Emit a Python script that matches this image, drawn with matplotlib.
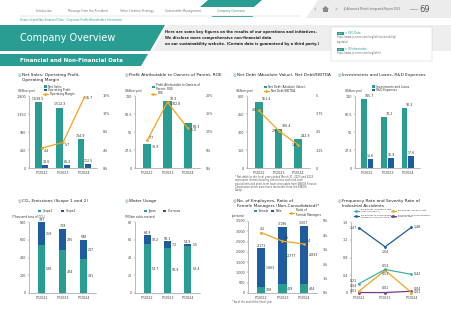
import matplotlib
matplotlib.use("Agg")
import matplotlib.pyplot as plt
from matplotlib.patches import Polygon, Rectangle

TEAL = '#2a9d92'
BLUE = '#1d5c9f'
ORANGE = '#f2a51e'
PURPLE = '#7a3b8c'
CYAN = '#3fb2a6'

years = ['FY2022', 'FY2023', 'FY2024']

# Net sales / operating profit / margin
net_sales = [1638.5, 1512.3, 714.9]
op_profit = [72.6, 86.2, 112.5]
op_margin = [4.4, 5.7, 15.7]

# Profit attributable / ROE
profit_parent = [36.9, 102.8, 68.3]
roe = [7.7, 18.3, 11.0]

# Net debt / EBITDA
net_debt = [551.4, 326.4, 242.9]
debt_ebitda = [4.0, 2.6, 1.6]

# Investments / R&D
investments = [105.7, 78.2, 92.3]
rnd = [13.6, 15.9, 17.6]

# CO2
scope1 = [538, 484, 381]
scope2 = [259, 235, 217]

# Water
water_japan = [54.7, 50.9, 53.4]
water_overseas = [10.2, 7.2, 1.5]

# Employees
female = [308, 419, 434]
male = [1863, 2777, 2833]
female_mgr = [4.2, 3.6, 3.4]

# Accidents
emp_freq = [0.21, 0.53, 0.42]
sub_freq = [1.47, 1.04, 1.48]
emp_sev = [0.04, 0.51, 0.01]
sub_sev = [0.01, 0.01, 0.04]

W, H = 452, 320
fig = plt.figure(figsize=(4.52, 3.2), dpi=100)
fig.patch.set_facecolor('white')

bg = fig.add_axes([0, 0, 1, 1])
bg.set_xlim(0, W)
bg.set_ylim(H, 0)
bg.axis('off')


def px_axes(x0, y0, x1, y1):
    return fig.add_axes([x0 / W, 1 - y1 / H, (x1 - x0) / W, (y1 - y0) / H])


def t(x, y, s, **kw):
    kw.setdefault('fontsize', 2.5)
    kw.setdefault('color', '#333333')
    kw.setdefault('va', 'center')
    bg.text(x, y, s, **kw)


# ---- header ----
bg.add_patch(Polygon([(318, 0), (452, 0), (452, 18), (306, 18)], color='#ececec', lw=0))
bg.add_patch(Polygon([(208, 0), (262, 0), (254, 7), (200, 7)], color=TEAL, lw=0))
bg.plot([20, 300], [16, 16], color='#cccccc', lw=0.3)
bg.plot([212, 252], [16, 16], color=TEAL, lw=0.6)
nav = [('Introduction', 36), ('Message From the President', 68), ('Value Creation Strategy', 120),
       ('Sustainable Management', 165), ('Company Overview', 217)]
for label, x in nav:
    t(x, 11, label, fontsize=2.1, color=TEAL if label == 'Company Overview' else '#777777')
t(314, 9, '‹', fontsize=5, color='#999999')
bg.add_patch(Polygon([(322, 9), (325.5, 6), (329, 9), (328, 9), (328, 12), (323, 12), (323, 9)], color='#888888', lw=0))
t(334, 9, '›', fontsize=5, color='#999999')
t(343, 9, 'JX Advanced Metals Integrated Report 2025', fontsize=1.9, color='#666666')
bg.plot([410, 417], [9, 9], color='#888888', lw=0.4)
t(419, 9, '69', fontsize=6, color='#555555')
t(20, 20, 'Financial and Non-Financial Data   Corporate Profile/Shareholder Information', fontsize=1.9, color=TEAL)

# title band
bg.add_patch(Polygon([(0, 25), (165, 25), (150, 51), (0, 51)], color=TEAL, lw=0))
bg.add_patch(Polygon([(168, 25), (452, 25), (452, 51), (153, 51)], color='#eeeeee', lw=0))
t(20, 38, 'Company Overview', fontsize=7, color='white')
for i, line in enumerate(['Here are some key figures on the results of our operations and initiatives.',
                          'We disclose more comprehensive non-financial data',
                          'on our sustainability website. (Certain data is guaranteed by a third party.)']):
    t(165, 31.5 + i * 6, line, fontsize=2.6, fontweight='bold', color='#222222')
bg.add_patch(Rectangle((331, 27), 101, 34, facecolor='white', edgecolor='#cccccc', lw=0.3))
links = [('ESG Data', 'https://www.jx-nmm.com/english/sustainability/\nesg-data/'),
         ('IR Information', 'https://www.jx-nmm.com/english/ir/')]
for i, (lab, url) in enumerate(links):
    y = 33 + i * 16
    bg.add_patch(Rectangle((337, y - 1.5), 7, 3, color=TEAL, lw=0))
    t(338, y, 'Web', fontsize=1.6, color='white')
    t(345, y, '> ' + lab, fontsize=1.9, color=TEAL)
    t(337, y + 2.2, url, fontsize=1.8, color='#666666', linespacing=1.3, va='top')

bg.add_patch(Polygon([(0, 54), (148, 54), (141, 66), (0, 66)], color=TEAL, lw=0))
t(20, 60, 'Financial and Non-Financial Data', fontsize=4, color='white', fontweight='bold')


def title(x, y, s):
    t(x, y, '◎', fontsize=3, color=TEAL)
    t(x + 4, y, s, fontsize=3.1, color='#222222')


title(18, 75, 'Net Sales, Operating Profit,')
t(22, 80, 'Operating Margin', fontsize=3.1, color='#222222')
title(125, 75, 'Profit Attributable to Owners of Parent, ROE')
title(233, 75, 'Net Debt (Absolute Value), Net Debt/EBITDA')
title(338, 75, 'Investments and Loans, R&D Expenses')
title(18, 201, 'CO\u2082 Emissions (Scope 1 and 2)')
title(125, 201, 'Water Usage')
title(233, 201, 'No. of Employees, Ratio of')
t(237, 206, 'Female Managers (Non-Consolidated)*', fontsize=3.1, color='#222222')
title(338, 201, 'Frequency Rate and Severity Rate of')
t(342, 206, 'Industrial Accidents', fontsize=3.1, color='#222222')


def leg_sq(x, y, c, s, fs=2.1):
    bg.add_patch(Rectangle((x, y - 1.4), 2.8, 2.8, color=c, lw=0))
    t(x + 4.5, y, s, fontsize=fs, color='#333333', linespacing=1.2)


def leg_ln(x, y, c, s, fs=2.1):
    bg.plot([x - 1, x + 4], [y, y], color=c, lw=0.8)
    bg.plot([x + 1.5], [y], marker='o', ms=1, color=c)
    t(x + 6, y, s, fontsize=fs, color='#333333', linespacing=1.1)


def style(ax, ymax, step, fmt='{:,.0f}'):
    ax.set_xlim(-0.6, 2.6)
    ax.set_ylim(0, ymax)
    ticks = [step * i for i in range(int(round(ymax / step)) + 1)]
    ax.set_yticks(ticks)
    ax.set_yticklabels([fmt.format(v) for v in ticks])
    ax.set_xticks(range(3))
    ax.set_xticklabels(years)
    ax.tick_params(labelsize=2.4, length=1, width=0.3, pad=1, colors='#444444')
    for s in ['top', 'right']:
        ax.spines[s].set_visible(False)
    for s in ['left', 'bottom']:
        ax.spines[s].set_linewidth(0.4)
        ax.spines[s].set_color('#888888')
    ax.patch.set_alpha(0)


def right_axis(ax, ymax, step, fmt):
    r = ax.twinx()
    r.set_ylim(0, ymax)
    ticks = [step * i for i in range(int(round(ymax / step)) + 1)]
    r.set_yticks(ticks)
    r.set_yticklabels([fmt.format(v) for v in ticks])
    r.tick_params(labelsize=2.4, length=0, pad=4, colors='#444444')
    for s in r.spines.values():
        s.set_visible(False)
    return r


lab = dict(fontsize=2.3, color='#333333')
x = [0, 1, 2]

# ---- chart 1 ----
ax = px_axes(29, 96, 97, 168)
ax.bar([i - 0.16 for i in x], net_sales, 0.3, color=TEAL)
ax.bar([i + 0.17 for i in x], op_profit, 0.28, color=BLUE)
style(ax, 1800, 450)
for i in x:
    ax.text(i - 0.16, net_sales[i] + 30, f'{net_sales[i]:,.1f}', ha='center', va='bottom', **lab)
    ax.text(i + 0.2, op_profit[i] + 25, f'{op_profit[i]:.1f}', ha='center', va='bottom', **lab)
r = right_axis(ax, 16, 4, '{:.0f}%')
r.plot(x, op_margin, color=ORANGE, lw=0.9, marker='o', ms=1)
for i in x:
    r.text(i + 0.08, op_margin[i] - 0.2, f'{op_margin[i]:.1f}', ha='left', va='top' if i < 2 else 'center', **lab)
t(18, 91, '(Billion yen)', fontsize=2.1)
leg_sq(44, 86.5, TEAL, 'Net Sales')
leg_sq(44, 90, BLUE, 'Operating Profit')
leg_ln(44, 93.5, ORANGE, 'Operating Margin')

# ---- chart 2 ----
ax = px_axes(135, 96, 200, 168)
ax.bar(x, profit_parent, 0.4, color=TEAL)
style(ax, 110, 27.5, fmt='{:g}')
for i in x:
    ax.text(i + 0.22, profit_parent[i] - 2, f'{profit_parent[i]:.1f}', ha='left', va='top', **lab)
r = right_axis(ax, 20, 5, '{:.0f}%')
r.plot(x, roe, color=ORANGE, lw=0.9, marker='o', ms=1)
for i in x:
    r.text(i + 0.1, roe[i] + 0.2, f'{roe[i]:.1f}', ha='left', va='bottom' if i < 2 else 'top', **lab)
t(125, 91, '(Billion yen)', fontsize=2.1)
leg_sq(152, 87, TEAL, 'Profit Attributable to Owners of\nParent, ROE')
leg_ln(152, 93.5, ORANGE, 'ROE')

# ---- chart 3 ----
ax = px_axes(247, 96, 310, 168)
ax.bar(x, net_debt, 0.4, color=TEAL)
style(ax, 600, 150)
for i in x:
    ax.text(i + 0.15, net_debt[i] + 8, f'{net_debt[i]:.1f}', ha='left', va='bottom', **lab)
r = right_axis(ax, 5, 1.25, '{:g}')
r.plot(x, debt_ebitda, color=ORANGE, lw=0.9, marker='o', ms=1)
for i in x:
    r.text(i - 0.08, debt_ebitda[i], f'{debt_ebitda[i]:.1f}', ha='right', va='center', **lab)
t(236, 91, '(Billion yen)', fontsize=2.1)
leg_sq(264, 87, TEAL, 'Net Debt (Absolute Value),')
leg_ln(265, 91, ORANGE, 'Net Debt/EBITDA')
for i, line in enumerate(['* Net debt for the fiscal years ended March 31, 2023 and 2024',
                          'represents interest-bearing debt minus cash and cash',
                          'equivalents and short-term loans receivable from ENEOS Finance',
                          'Corporation which were loans receivable from the ENEOS',
                          'Group.']):
    t(235, 177 + i * 3.3, line, fontsize=1.8, color='#555555')

# ---- chart 4 ----
ax = px_axes(355, 96, 420, 168)
ax.bar([i - 0.17 for i in x], investments, 0.28, color=TEAL)
ax.bar([i + 0.17 for i in x], rnd, 0.28, color=BLUE)
style(ax, 110, 27.5, fmt='{:g}')
for i in x:
    ax.text(i - 0.1, investments[i] + 1.5, f'{investments[i]:.1f}', ha='left', va='bottom', **lab)
    ax.text(i + 0.17, rnd[i] + 1.5, f'{rnd[i]:.1f}', ha='center', va='bottom', **lab)
t(345, 91, '(Billion yen)', fontsize=2.1)
leg_sq(372, 86.5, TEAL, 'Investments and Loans')
leg_sq(372, 90, BLUE, 'R&D Expenses')

# ---- chart 5 ----
ax = px_axes(29, 222, 96, 293)
ax.bar(x, scope1, 0.35, color=TEAL)
ax.bar(x, scope2, 0.35, bottom=scope1, color=BLUE)
style(ax, 800, 200)
for i in x:
    tot = scope1[i] + scope2[i]
    ax.text(i, tot + 8, f'{tot:,}', ha='center', va='bottom', **lab)
    ax.text(i + 0.22, scope1[i] / 2, f'{scope1[i]}', ha='left', va='center', **lab)
    ax.text(i + 0.22, scope1[i] + scope2[i] / 2, f'{scope2[i]}', ha='left', va='center', **lab)
t(12, 216.5, '(Thousand tons of CO\u2082)', fontsize=2.1)
leg_sq(38, 211, TEAL, 'Scope1')
leg_sq(61, 211, BLUE, 'Scope2')

# ---- chart 6 ----
ax = px_axes(135, 222, 200, 293)
ax.bar(x, water_japan, 0.35, color=TEAL)
ax.bar(x, water_overseas, 0.35, bottom=water_japan, color=BLUE)
style(ax, 80, 20)
for i in x:
    tot = water_japan[i] + water_overseas[i]
    ax.text(i, tot + 0.8, f'{tot:.1f}', ha='center', va='bottom', **lab)
    ax.text(i + 0.22, water_japan[i] / 2, f'{water_japan[i]:.1f}', ha='left', va='center', **lab)
    ax.text(i + 0.22, water_japan[i] + water_overseas[i] / 2, f'{water_overseas[i]:.1f}', ha='left', va='center', **lab)
t(125, 216.5, '(Million cubic meters)', fontsize=2.1)
leg_sq(144, 211, TEAL, 'Japan')
leg_sq(163, 211, BLUE, 'Overseas')

# ---- chart 7 ----
ax = px_axes(248, 221, 317, 293)
ax.bar(x, female, 0.38, color=TEAL)
ax.bar(x, male, 0.38, bottom=female, color=BLUE)
style(ax, 3500, 500)
for i in x:
    tot = female[i] + male[i]
    ax.text(i, tot + 40, f'{tot:,}', ha='center', va='bottom', **lab)
    ax.text(i + 0.22, female[i] / 2, f'{female[i]}', ha='left', va='center', **lab)
    ax.text(i + 0.22, female[i] + male[i] / 2, f'{male[i]:,}', ha='left', va='center', **lab)
r = right_axis(ax, 5, 1, '{:.0f}%')
r.plot(x, female_mgr, color=ORANGE, lw=0.9, marker='o', ms=1)
for i in x:
    r.text(i + 0.08, female_mgr[i] + 0.08, f'{female_mgr[i]:.1f}', ha='left' if i else 'center', va='bottom', **lab)
t(232, 216.5, '(persons)', fontsize=2.1)
leg_sq(254, 211, TEAL, 'Female')
leg_sq(271, 211, BLUE, 'Male')
leg_ln(290, 212.5, ORANGE, 'Ratio of\nFemale Managers')
t(232, 302, '* As of the end of the fiscal year', fontsize=1.8, color='#555555')

# ---- chart 8 ----
ax = px_axes(351, 222, 418, 293)
style(ax, 1.6, 0.4, fmt='{:g}')
ax.set_xlim(-0.3, 2.25)
ax.spines['bottom'].set_visible(False)
ax.axhline(0, color='#888888', lw=0.4)
for vals, c in [(sub_sev, PURPLE), (emp_sev, ORANGE), (emp_freq, CYAN), (sub_freq, BLUE)]:
    ax.plot(x, vals, color=c, lw=0.9, marker='o', ms=1, clip_on=False)
ax.text(-0.08, sub_freq[0], f'{sub_freq[0]:.2f}', ha='right', va='center', **lab)
ax.text(1, sub_freq[1] - 0.06, f'{sub_freq[1]:.2f}', ha='center', va='top', **lab)
ax.text(2.08, sub_freq[2], f'{sub_freq[2]:.2f}', ha='left', va='center', **lab)
ax.text(-0.08, 0.27, f'{emp_freq[0]:.2f}', ha='right', va='center', **lab)
ax.text(-0.08, 0.16, f'{emp_sev[0]:.2f}', ha='right', va='center', **lab)
ax.text(-0.08, 0.04, f'{sub_sev[0]:.2f}', ha='right', va='center', **lab)
ax.text(1, emp_freq[1] + 0.04, f'{emp_freq[1]:.2f}', ha='center', va='bottom', **lab)
ax.text(1, emp_sev[1] - 0.04, f'{emp_sev[1]:.2f}', ha='center', va='top', **lab)
ax.text(1, sub_sev[1] + 0.06, f'{sub_sev[1]:.2f}', ha='center', va='bottom', **lab)
ax.text(2.08, emp_freq[2], f'{emp_freq[2]:.2f}', ha='left', va='center', **lab)
ax.text(2.08, 0.1, f'{sub_sev[2]:.2f}', ha='left', va='center', **lab)
ax.text(2.08, 0.03, f'{emp_sev[2]:.2f}', ha='left', va='center', **lab)
leg_ln(355, 210.5, CYAN, "Employees' Frequency rate\n(lost time injury)", fs=1.6)
leg_ln(355, 216, BLUE, 'Employees of subcontractors\nFrequency rate (lost time injury)', fs=1.6)
leg_ln(392, 210.5, ORANGE, "Employees' Severity rate", fs=1.6)
leg_ln(392, 216, PURPLE, 'Employees of subcontractors\nSeverity rate', fs=1.6)

fig.savefig('out.png', dpi=100)
